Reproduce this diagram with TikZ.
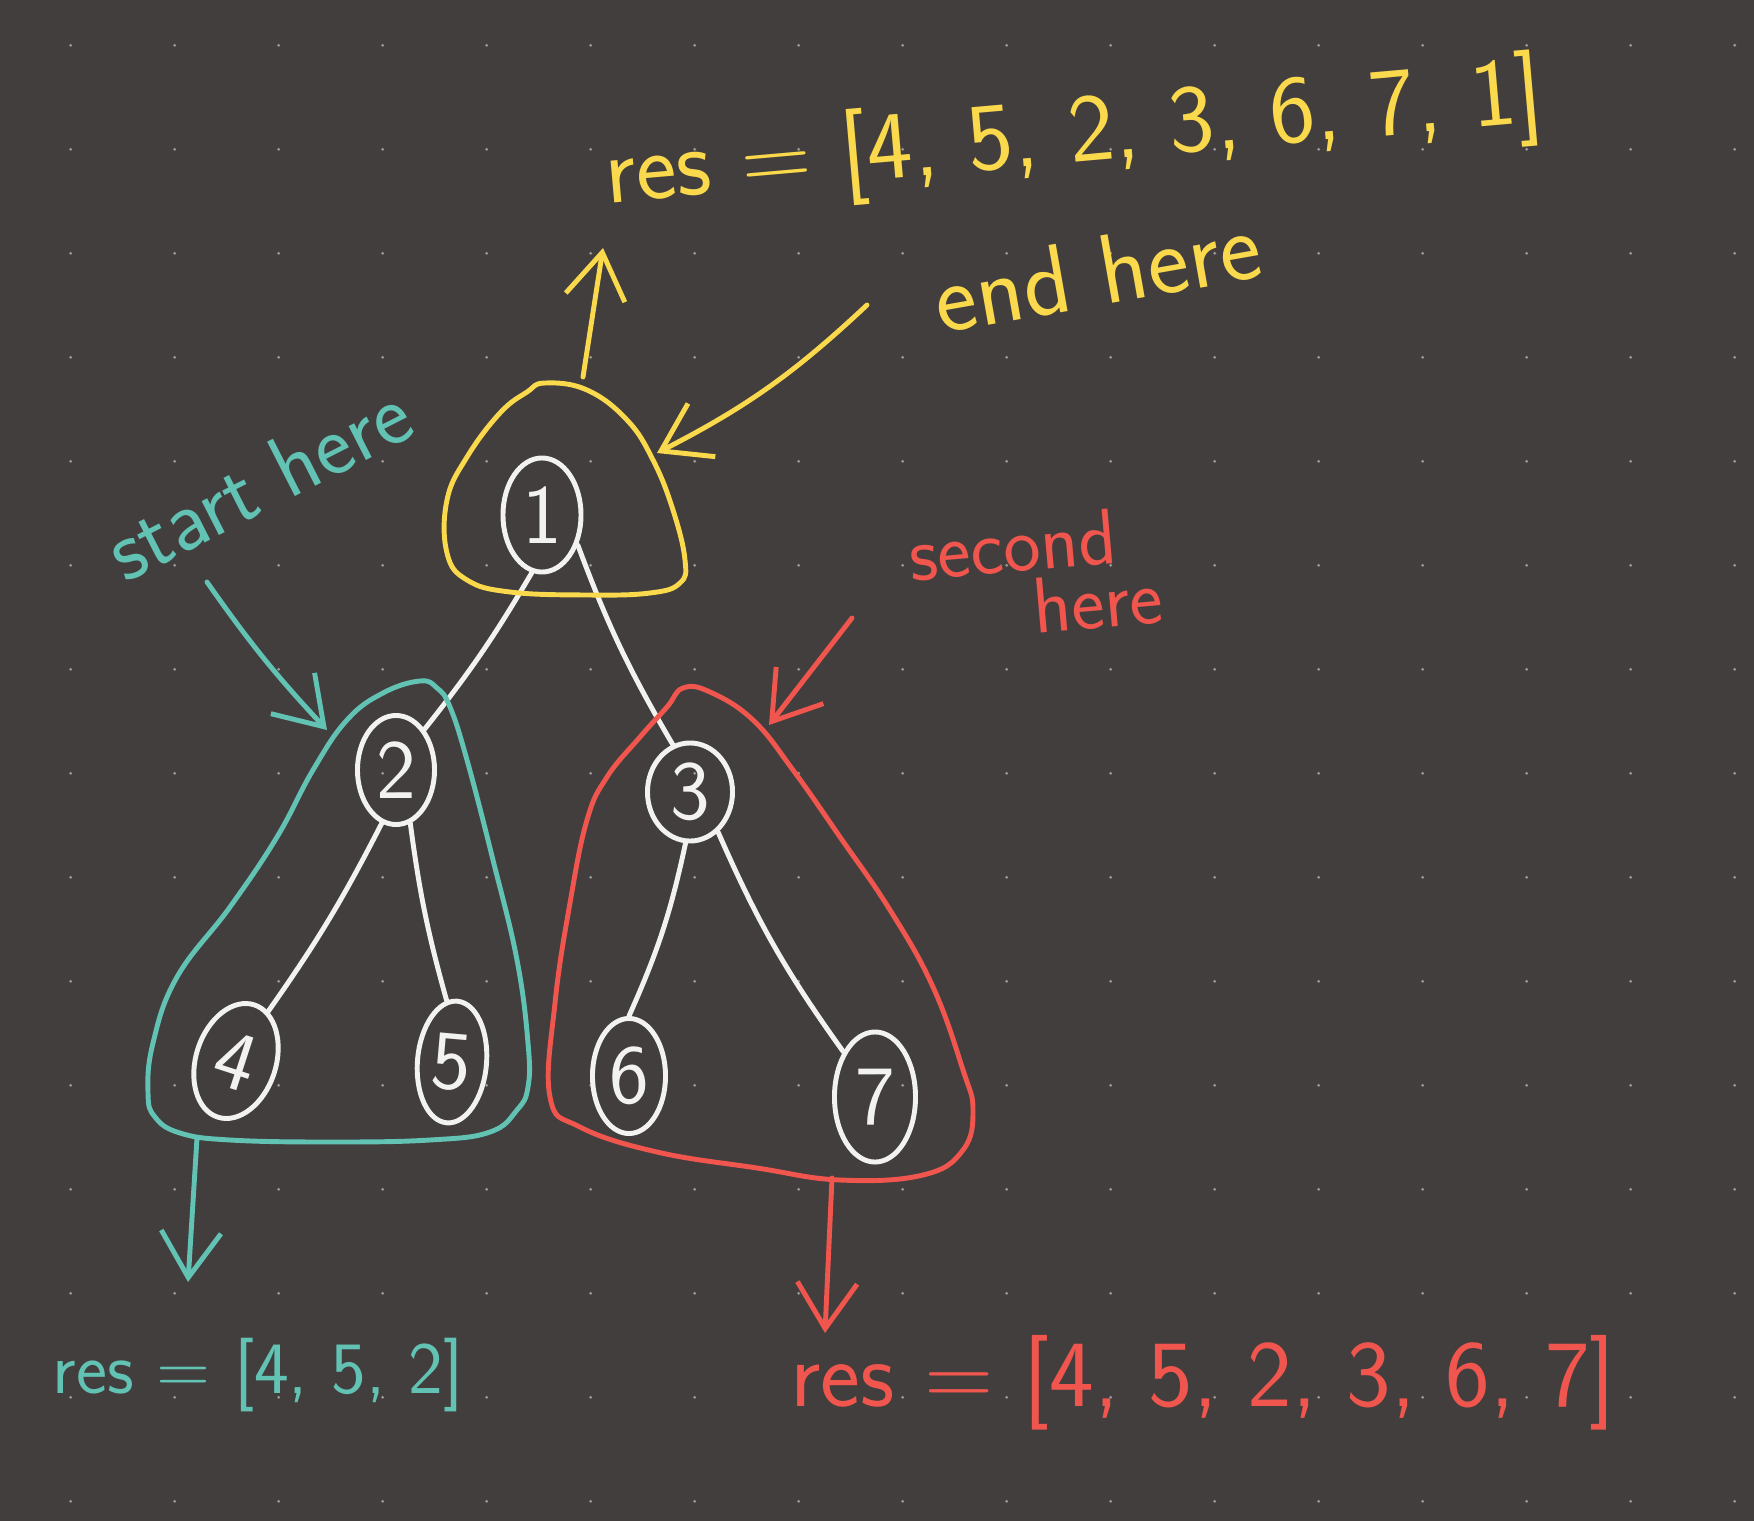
\documentclass[tikz,border=0pt]{standalone}
\usepackage{tikz}
\usetikzlibrary{arrows.meta,shapes.geometric}
\definecolor{board}{HTML}{423E3D}
\definecolor{griddot}{HTML}{9A9896}
\definecolor{chalk}{HTML}{F2F2F0}
\definecolor{pyellow}{HTML}{FAD94C}
\definecolor{pteal}{HTML}{62C2B3}
\definecolor{pred}{HTML}{F0564E}

\tikzset{
  pen/.style={line width=1.4pt, line cap=round, line join=round},
  treenode/.style={draw=chalk, ellipse, pen, inner sep=0pt, text=chalk,
    font=\sffamily\fontsize{24}{26}\selectfont},
  handarrow/.style={pen, -{Straight Barb[length=13pt,width=17pt,line width=1.4pt]}},
  blob/.style={pen, smooth cycle, tension=0.7}
}

\begin{document}
\begin{tikzpicture}[x=0.01cm, y=-0.01cm]
\useasboundingbox (0,0) rectangle (1754,1521);
\fill[board] (0,0) rectangle (1754,1521);
\foreach \i in {0,...,16}
  \foreach \j in {0,...,14}
    \fill[griddot] ({70.7+104*\i},{45.3+104*\j}) circle (0.45pt);

% tree
\node[treenode, minimum width=0.78cm, minimum height=1.14cm] (n1) at (542,515) {1};
\node[treenode, minimum width=0.77cm, minimum height=1.09cm] (n2) at (396,770) {2};
\node[treenode, minimum width=0.85cm, minimum height=0.98cm] (n3) at (690,792) {3};
\node[treenode, minimum width=0.8cm, minimum height=1.18cm, rotate=-18] (n4) at (236,1061) {4};
\node[treenode, minimum width=0.69cm, minimum height=1.22cm, rotate=-5] (n5) at (452,1062) {5};
\node[treenode, minimum width=0.73cm, minimum height=1.15cm] (n6) at (629,1076) {6};
\node[treenode, minimum width=0.81cm, minimum height=1.30cm] (n7) at (875,1097) {7};
\draw[pen, chalk] (n1.-100) to[bend left=4] (n2.55);
\draw[pen, chalk] (n1.-40) to[bend right=5] (n3.110);
\draw[pen, chalk] (n2.-105) to[bend left=4] (n4.75);
\draw[pen, chalk] (n2.-75) to[bend right=4] (n5.100);
\draw[pen, chalk] (n3.-95) to[bend left=6] (n6.90);
\draw[pen, chalk] (n3.-55) to[bend right=6] (n7.125);

% groups
\draw[blob, pyellow] plot coordinates {(545,383) (587,390) (627,420) (653,460) (673,510) (685,560) (680,583) (650,593) (587,595) (510,592) (467,580) (447,553) (447,500) (467,457) (500,413) (527,392)};
\draw[blob, pteal] plot coordinates {(420,681) (437,688) (450,707) (467,760) (493,860) (517,960) (528,1043) (528,1087) (517,1110) (490,1132) (430,1140) (330,1142) (230,1140) (180,1133) (155,1117) (148,1093) (153,1043) (177,977) (230,907) (277,837) (313,770) (347,720) (383,693)};
\draw[blob, pred] plot coordinates {(683,688) (710,692) (753,720) (793,770) (840,837) (890,910) (933,987) (963,1070) (973,1110) (963,1150) (923,1175) (840,1180) (757,1168) (657,1152) (580,1127) (550,1097) (555,1003) (570,903) (587,820) (607,777) (640,737) (667,707)};

% labels
\node[text=pyellow, rotate=5, font=\sffamily\fontsize{27.5}{30}\selectfont] (resall) at (1074,138) {res = [4, 5, 2, 3, 6, 7, 1]};
\node[text=pyellow, rotate=10, font=\sffamily\fontsize{28}{30}\selectfont] (endlbl) at (1097,272) {end here};
\node[text=pteal, rotate=27, font=\sffamily\fontsize{25}{26}\selectfont] (startlbl) at (258,482) {start here};
\node[text=pred, rotate=5, anchor=north west, align=left, font=\sffamily\fontsize{22.5}{18}\selectfont] (seclbl) at (893,515) {second\\\hspace*{1.5em}here};
\node[text=pteal, font=\sffamily\fontsize{21}{24}\selectfont] (resleft) at (258,1375) {res = [4, 5, 2]};
\node[text=pred, font=\sffamily\fontsize{27}{30}\selectfont] (resright) at (1203,1383) {res = [4, 5, 2, 3, 6, 7]};

% arrows
\coordinate (ytail) at (583,377);
\coordinate (ytip) at (603,248);
\coordinate (endtail) at (867,305);
\coordinate (endtip) at (657,453);
\coordinate (starttail) at (207,582);
\coordinate (starttip) at (327,730);
\coordinate (sectail) at (852,618);
\coordinate (sectip) at (769,725);
\coordinate (ttail) at (197,1138);
\coordinate (ttip) at (188,1282);
\coordinate (rtail) at (832,1178);
\coordinate (rtip) at (825,1333);
\draw[handarrow, pyellow] (ytail) -- (ytip);
\draw[handarrow, pyellow] (endtail) to[bend left=8] (endtip);
\draw[handarrow, pteal] (starttail) to[bend right=4] (starttip);
\draw[handarrow, pred] (sectail) -- (sectip);
\draw[handarrow, pteal] (ttail) -- (ttip);
\draw[handarrow, pred] (rtail) -- (rtip);
\end{tikzpicture}
\end{document}
